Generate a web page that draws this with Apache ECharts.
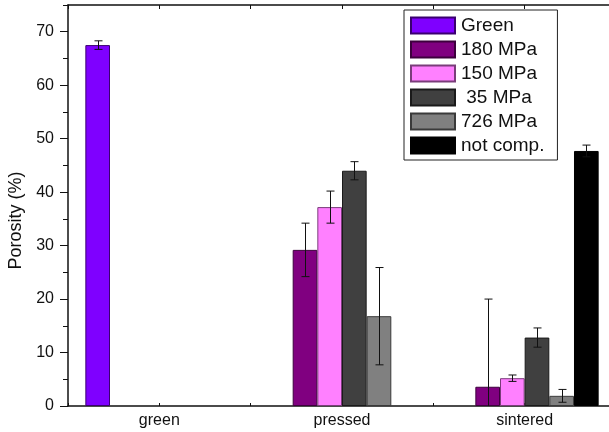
<!DOCTYPE html>
<html>
<head>
<meta charset="utf-8">
<script src="https://cdn.jsdelivr.net/npm/echarts@6/dist/echarts.min.js"></script>
<style>
  html, body { margin: 0; padding: 0; background: #fff; }
  #chart { width: 609px; height: 432px; }
</style>
</head>
<body>
<div id="chart"></div>
<script>
// Porosity of green, pressed and sintered samples, grouped by processing state
const categories = ['green', 'pressed', 'sintered'];
const seriesNames = ['Green', '180 MPa', '150 MPa', ' 35 MPa', '726 MPa', 'not comp.'];

// mean porosity (%) per category; null = no bar in that group
const greenValues    = [67.5, null, null];
const mpa180Values   = [null, 29.2, 3.6];
const mpa150Values   = [null, 37.2, 5.2];
const mpa35Values    = [null, 44.0, 12.8];
const mpa726Values   = [null, 16.8, 1.9];
const notCompValues  = [null, null, 47.7];

// standard deviation (%) per category
const greenErrors    = [0.8, null, null];
const mpa180Errors   = [null, 5.0, 16.4];
const mpa150Errors   = [null, 3.0, 0.6];
const mpa35Errors    = [null, 1.7, 1.8];
const mpa726Errors   = [null, 9.1, 1.2];
const notCompErrors  = [null, null, 1.1];

// y-axis ticks
const yMajorTicks = [0, 10, 20, 30, 40, 50, 60, 70];
const yMinorTicks = [5, 15, 25, 35, 45, 55, 65, 75];

const allValues = [greenValues, mpa180Values, mpa150Values, mpa35Values, mpa726Values, notCompValues];
const allErrors = [greenErrors, mpa180Errors, mpa150Errors, mpa35Errors, mpa726Errors, notCompErrors];

const fills   = ['#7f00ff', '#800080', '#ff80ff', '#404040', '#808080', '#000000'];
const borders = ['#3a0070', '#3d003d', '#7a3d7a', '#1a1a1a', '#3a3a3a', '#000000'];

const FONT = '"Liberation Sans", Arial, sans-serif';
const CAT_GAP = 0.19;

const barSeries = seriesNames.map((name, i) => ({
  name: name,
  type: 'bar',
  xAxisIndex: 0,
  yAxisIndex: 0,
  data: allValues[i],
  barGap: 0,
  barCategoryGap: (CAT_GAP * 100) + '%',
  itemStyle: { color: fills[i], borderColor: borders[i], borderWidth: 1 },
  emphasis: { disabled: true },
  z: 2
}));

// error bar records: [category index, value, error, series index]
const errorData = [];
allValues.forEach((vals, s) => {
  vals.forEach((v, c) => {
    if (v != null && allErrors[s][c] != null) errorData.push([c, v, allErrors[s][c], s]);
  });
});

const errorSeries = {
  type: 'custom',
  xAxisIndex: 0,
  yAxisIndex: 0,
  data: errorData,
  z: 5,
  silent: true,
  renderItem: function (params, api) {
    const cat = api.value(0), val = api.value(1), err = api.value(2), s = api.value(3);
    const band = api.size([1, 0])[0];
    const bw = band * (1 - CAT_GAP) / seriesNames.length;
    const x = Math.round(api.coord([cat, val])[0] + (s - (seriesNames.length - 1) / 2) * bw) + 0.5;
    const hiVal = val + err;
    const loVal = Math.max(0, val - err);
    const yHi = api.coord([cat, hiVal])[1];
    const yLo = api.coord([cat, loVal])[1];
    const cap = 4;
    const style = { stroke: '#111', lineWidth: 1, fill: null };
    const children = [
      { type: 'line', shape: { x1: x, y1: yHi, x2: x, y2: yLo }, style: style },
      { type: 'line', shape: { x1: x - cap, y1: yHi, x2: x + cap, y2: yHi }, style: style }
    ];
    if (val - err > 0) {
      children.push({ type: 'line', shape: { x1: x - cap, y1: yLo, x2: x + cap, y2: yLo }, style: style });
    }
    return { type: 'group', children: children };
  }
};

const chart = echarts.init(document.getElementById('chart'), null, { renderer: 'canvas' });

chart.setOption({
  animation: false,
  backgroundColor: '#ffffff',
  textStyle: { fontFamily: FONT },
  grid: { left: 68, top: 5, width: 548, height: 401, containLabel: false, outerBoundsMode: 'none' },
  legend: {
    orient: 'vertical',
    left: 404,
    top: 10,
    data: seriesNames,
    itemWidth: 44,
    itemHeight: 16,
    itemGap: 5,
    padding: [6, 13, 5, 6],
    borderColor: '#222',
    borderWidth: 1,
    backgroundColor: '#fff',
    selectedMode: false,
    icon: 'rect',
    textStyle: { fontFamily: FONT, fontSize: 19, color: '#111', padding: [0, 0, 0, 1] }
  },
  xAxis: [
    {
      type: 'category',
      position: 'bottom',
      data: categories,
      axisLine: { show: true, lineStyle: { color: '#111', width: 1.5 } },
      axisTick: { show: false },
      axisLabel: { fontFamily: FONT, fontSize: 16, color: '#111', margin: 7 },
      splitLine: { show: false }
    },
    {
      // tick marks at group boundaries and centres along the bottom
      type: 'value',
      position: 'bottom',
      min: 0, max: 3, interval: 0.5,
      axisLine: { show: false },
      axisTick: { show: true, inside: true, length: 3, lineStyle: { color: '#111', width: 1 } },
      axisLabel: { show: false },
      splitLine: { show: false }
    },
    {
      // frame line on top
      type: 'value',
      position: 'top',
      min: 0, max: 3, interval: 0.5,
      axisLine: { show: true, lineStyle: { color: '#111', width: 1.5 } },
      axisTick: { show: true, inside: true, length: 4, lineStyle: { color: '#111', width: 1 } },
      axisLabel: { show: false },
      splitLine: { show: false }
    }
  ],
  yAxis: [
    {
      type: 'value',
      position: 'left',
      min: 0, max: 75, interval: 10,
      name: 'Porosity (%)',
      nameLocation: 'middle',
      nameGap: 41,
      nameRotate: 90,
      nameTextStyle: { fontFamily: FONT, fontSize: 18, color: '#111', padding: [0, 30, 0, 0] },
      axisLine: { show: true, lineStyle: { color: '#111', width: 1.5 } },
      axisTick: { show: true, inside: false, length: 8, customValues: yMajorTicks, lineStyle: { color: '#111', width: 1 } },
      axisLabel: { fontFamily: FONT, fontSize: 16, color: '#111', margin: 14, customValues: yMajorTicks },
      splitLine: { show: false }
    },
    {
      // minor ticks
      type: 'value',
      position: 'left',
      min: 0, max: 75, interval: 5,
      axisLine: { show: false },
      axisTick: { show: true, inside: false, length: 5, customValues: yMinorTicks, lineStyle: { color: '#111', width: 1 } },
      axisLabel: { show: false },
      splitLine: { show: false }
    }
  ],
  series: barSeries.concat([errorSeries])
});
</script>
</body>
</html>
